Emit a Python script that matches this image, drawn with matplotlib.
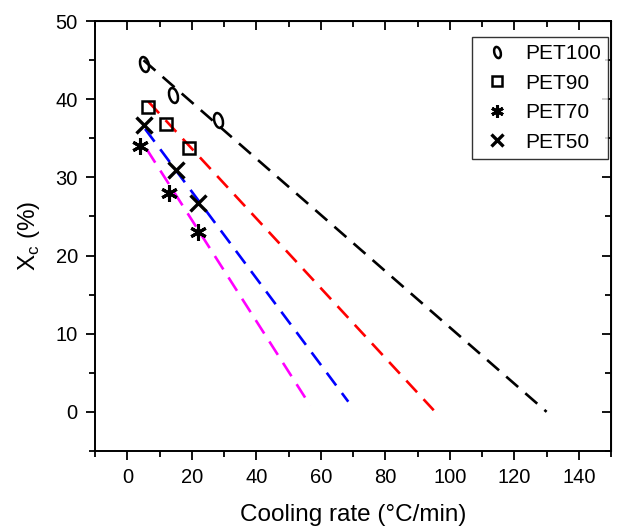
import numpy as np
import matplotlib
matplotlib.use('Agg')
import matplotlib.pyplot as plt
from matplotlib.markers import MarkerStyle
from matplotlib.transforms import Affine2D
from matplotlib.ticker import MultipleLocator

plt.rcParams['font.family'] = ['Liberation Sans', 'DejaVu Sans']

# measured points
rate_100 = [5, 14, 28]
xc_100 = [44.5, 40.5, 37.3]
rate_90 = [6.5, 12, 19]
xc_90 = [39.0, 36.8, 33.8]
rate_70 = [4, 13, 22]
xc_70 = [34.0, 28.0, 23.0]
rate_50 = [5, 15, 22]
xc_50 = [36.7, 31.0, 26.7]

# dashed trend lines (start, end)
fit_x_100 = [5, 130]
fit_y_100 = [45.0, 0.0]
fit_x_90 = [6.5, 95]
fit_y_90 = [39.7, 0.2]
fit_x_50 = [5.5, 68.5]
fit_y_50 = [36.2, 1.3]
fit_x_70 = [6, 56.7]
fit_y_70 = [33.6, 0.8]

fig = plt.figure(figsize=(6.3, 5.28), dpi=100)
ax = fig.add_axes([0.151, 0.146, 0.819, 0.814])

dash = (6, 3.6)
ax.plot(fit_x_100, fit_y_100, color='black', lw=1.9, dashes=dash)
ax.plot(fit_x_90, fit_y_90, color='red', lw=1.9, dashes=dash)
ax.plot(fit_x_50, fit_y_50, color='blue', lw=1.9, dashes=dash)
ax.plot(fit_x_70, fit_y_70, color='magenta', lw=1.9, dashes=dash)

ellipse = MarkerStyle('o', transform=Affine2D().scale(0.55, 1.0).rotate_deg(15))
ax.plot(rate_100, xc_100, ls='none', marker=ellipse, ms=11, mfc='none', mec='black', mew=1.8, label='PET100')
ax.plot(rate_90, xc_90, ls='none', marker='s', ms=9, mfc='none', mec='black', mew=1.8, label='PET90')
ax.plot(rate_70, xc_70, ls='none', marker=(6, 2, 0), ms=12, color='black', mew=2.2, label='PET70')
ax.plot(rate_50, xc_50, ls='none', marker='x', ms=11, color='black', mew=2.4, label='PET50')

ax.set_xlim(-10, 150)
ax.set_ylim(-5, 50)
ax.xaxis.set_major_locator(MultipleLocator(20))
ax.xaxis.set_minor_locator(MultipleLocator(10))
ax.yaxis.set_major_locator(MultipleLocator(10))
ax.yaxis.set_minor_locator(MultipleLocator(5))
ax.tick_params(which='major', direction='out', length=6.5, width=1.3, labelsize=14.5, pad=6)
ax.tick_params(which='minor', direction='out', length=4, width=1.3)
for s in ax.spines.values():
    s.set_linewidth(1.4)

top = ax.secondary_xaxis('top')
top.xaxis.set_major_locator(MultipleLocator(20))
top.xaxis.set_minor_locator(MultipleLocator(10))
top.tick_params(which='major', direction='in', length=6.5, width=1.3, labeltop=False)
top.tick_params(which='minor', direction='in', length=4, width=1.3)
right = ax.secondary_yaxis('right')
right.yaxis.set_major_locator(MultipleLocator(10))
right.yaxis.set_minor_locator(MultipleLocator(5))
right.tick_params(which='major', direction='in', length=6.5, width=1.3, labelright=False)
right.tick_params(which='minor', direction='in', length=4, width=1.3)

ax.set_xlabel('Cooling rate (°C/min)', fontsize=17.5, labelpad=12)
ax.set_ylabel(r'X$_\mathregular{c}$ (%)', fontsize=17.5, labelpad=10)

leg = ax.legend(loc='upper right', fontsize=15, frameon=True, fancybox=False,
                edgecolor='black', handletextpad=0.5, borderpad=0.35, labelspacing=0.5,
                handlelength=1.7, markerscale=0.75, borderaxespad=0,
                bbox_to_anchor=(0.994, 0.963))
leg.get_frame().set_linewidth(1.0)

fig.savefig('out.png', dpi=100)
